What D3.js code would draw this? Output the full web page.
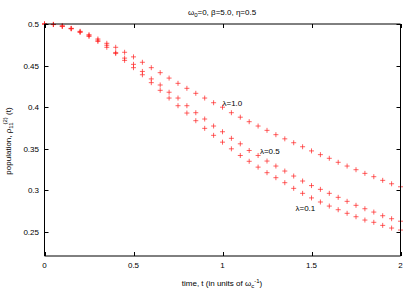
<!DOCTYPE html>
<html lang="en">
<head>
<meta charset="UTF-8">
<title>population vs time</title>
<style>
    body { margin: 0; background: #fff; }
    svg { display: block; font-family: "Liberation Sans", Arial, sans-serif; }
    .tick-label { font-size: 8px; fill: #000; }
    .lbl { font-size: 8px; fill: #000; }
</style>
</head>
<body>
<svg></svg>
<script src="https://d3js.org/d3.v7.min.js"></script>
<script>
    /* data */
    const times = d3.range(41).map(i => i * 0.05);
    const lambda10 = [0.5, 0.4995, 0.4976, 0.4948, 0.4912, 0.487, 0.482, 0.4768, 0.472, 0.466,
        0.4605, 0.454, 0.4475, 0.4415, 0.435, 0.4287, 0.4227, 0.4167, 0.411, 0.4054,
        0.400, 0.3934, 0.388, 0.3826, 0.3774, 0.3722, 0.367, 0.362, 0.3573, 0.3525,
        0.3475, 0.343, 0.3386, 0.3338, 0.3293, 0.3249, 0.3205, 0.3165, 0.3121, 0.308, 0.3044];
    const lambda05 = [0.5, 0.4995, 0.4975, 0.4945, 0.4905, 0.4865, 0.4805, 0.4745, 0.4658, 0.459,
        0.4515, 0.443, 0.434, 0.4267, 0.418, 0.411, 0.4018, 0.3934, 0.3858, 0.3774,
        0.3705, 0.3626, 0.356, 0.348, 0.342, 0.3353, 0.3293, 0.3233, 0.3173, 0.3113,
        0.3058, 0.3013, 0.2965, 0.2917, 0.2869, 0.2821, 0.278, 0.274, 0.2696, 0.266, 0.263];
    const lambda01 = [0.5, 0.4993, 0.4972, 0.4942, 0.49, 0.485, 0.479, 0.472, 0.4645, 0.4563,
        0.4475, 0.439, 0.4295, 0.4203, 0.411, 0.4018, 0.393, 0.3838, 0.3746, 0.3662,
        0.358, 0.350, 0.342, 0.335, 0.328, 0.3213, 0.3153, 0.3093, 0.3025, 0.2965,
        0.291, 0.2861, 0.2812, 0.2768, 0.2725, 0.2684, 0.2644, 0.2617, 0.258, 0.2548, 0.2524];
    const xTicks = [0, 0.5, 1, 1.5, 2];
    const yTicks = [0.25, 0.3, 0.35, 0.4, 0.45, 0.5];
    const curveLabels = [
        {text: "λ=1.0", t: 1.0, v: 0.4},
        {text: "λ=0.5", t: 1.21, v: 0.343},
        {text: "λ=0.1", t: 1.41, v: 0.274}
    ];

    /* layout */
    const width = 415;
    const height = 291;
    const mLeft = 44.5, mRight = 400.5, mTop = 24, mBottom = 256;
    const tickLen = 4;
    const crossHalf = 2.5;

    const svg = d3.select("svg")
        .attr("width", width)
        .attr("height", height);

    const x = d3.scaleLinear().domain([0, 2]).range([mLeft, mRight]);
    const y = d3.scaleLinear().domain([0.2212, 0.5]).range([mBottom, mTop]);

    /* points */
    const series = [lambda10, lambda05, lambda01];
    const pts = svg.append("g");
    series.forEach(vals => {
        vals.forEach((v, i) => {
            const px = x(times[i]), py = y(v);
            pts.append("path")
                .attr("d", `M${px - crossHalf},${py}H${px + crossHalf}M${px},${py - crossHalf}V${py + crossHalf}`)
                .attr("stroke", "#ff2020")
                .attr("stroke-opacity", 0.7)
                .attr("stroke-width", 1)
                .attr("fill", "none");
        });
    });

    /* border */
    const border = svg.append("g").attr("stroke", "#000").attr("stroke-width", 1);
    border.append("line").attr("x1", mLeft).attr("x2", mRight).attr("y1", mTop).attr("y2", mTop);
    border.append("line").attr("x1", mLeft).attr("x2", mRight).attr("y1", mBottom).attr("y2", mBottom);
    border.append("line").attr("x1", mLeft).attr("x2", mLeft).attr("y1", mTop).attr("y2", mBottom);
    border.append("line").attr("x1", mRight).attr("x2", mRight).attr("y1", mTop).attr("y2", mBottom);

    /* ticks */
    xTicks.forEach(t => {
        const px = Math.round(x(t)) + 0.5;
        border.append("line").attr("x1", px).attr("x2", px).attr("y1", mBottom).attr("y2", mBottom - tickLen);
        border.append("line").attr("x1", px).attr("x2", px).attr("y1", mTop).attr("y2", mTop + tickLen);
        svg.append("text").attr("class", "tick-label")
            .attr("x", x(t)).attr("y", 268)
            .attr("text-anchor", "middle")
            .text(t);
    });
    yTicks.forEach(v => {
        const py = Math.round(y(v)) + 0.5;
        border.append("line").attr("x1", mLeft).attr("x2", mLeft + tickLen).attr("y1", py).attr("y2", py);
        border.append("line").attr("x1", mRight).attr("x2", mRight - tickLen).attr("y1", py).attr("y2", py);
        svg.append("text").attr("class", "tick-label")
            .attr("x", 39).attr("y", y(v) + 3)
            .attr("text-anchor", "end")
            .text(v);
    });

    /* curve labels */
    curveLabels.forEach(d => {
        svg.append("text").attr("class", "lbl")
            .attr("x", x(d.t)).attr("y", y(d.v) - 1)
            .text(d.text);
    });

    /* title */
    const title = svg.append("text").attr("class", "lbl")
        .attr("x", 222).attr("y", 15).attr("text-anchor", "middle");
    title.append("tspan").text("ω");
    title.append("tspan").attr("dy", 2).attr("font-size", "6px").text("0");
    title.append("tspan").attr("dy", -2).text("=0, β=5.0, η=0.5");

    /* x axis title */
    const xt = svg.append("text").attr("class", "lbl")
        .attr("x", 222).attr("y", 286).attr("text-anchor", "middle");
    xt.append("tspan").text("time, t (in units of ω");
    xt.append("tspan").attr("dy", 2).attr("font-size", "6px").text("c");
    xt.append("tspan").attr("dy", -5).attr("font-size", "6px").text("-1");
    xt.append("tspan").attr("dy", 3).text(")");

    /* y axis title */
    const yt = svg.append("text").attr("class", "lbl")
        .attr("transform", "translate(11,141) rotate(-90)")
        .attr("text-anchor", "middle");
    yt.append("tspan").text("population, ρ");
    yt.append("tspan").attr("dy", 2).attr("font-size", "6px").text("11");
    yt.append("tspan").attr("dy", -6).attr("dx", -2).attr("font-size", "6px").text("(2)");
    yt.append("tspan").attr("dy", 4).text(" (t)");
</script>
</body>
</html>
